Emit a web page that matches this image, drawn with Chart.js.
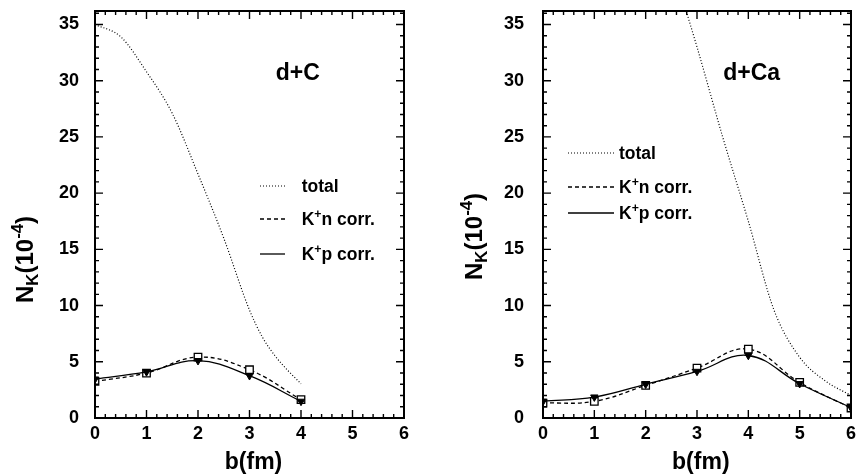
<!DOCTYPE html>
<html>
<head>
<meta charset="utf-8">
<script src="https://cdn.jsdelivr.net/npm/chart.js@4.4.0/dist/chart.umd.min.js"></script>
<style>
  html, body { margin: 0; padding: 0; background: #fff; }
  #wrap { position: relative; width: 864px; height: 475px; }
  canvas { position: absolute; top: 0; }
  #left { left: 0; }
  #right { left: 432px; }
</style>
</head>
<body>
<div id="wrap">
  <canvas id="left" width="432" height="475"></canvas>
  <canvas id="right" width="432" height="475"></canvas>
</div>
<script>
// impact parameter b (fm) where the correlated yields were computed
const B_POINTS = [0, 1, 2, 3, 4, 5, 6];
const X_TICKS = [0, 1, 2, 3, 4, 5, 6];
const Y_TICKS = [0, 5, 10, 15, 20, 25, 30, 35];

// d+C
const DC_KN = [3.25, 4.0, 5.42, 4.29, 1.63];
const DC_KP = [3.46, 4.1, 5.1, 3.76, 1.48];
const DC_TOTAL_B = [0, 0.5, 1, 1.5, 2, 2.5, 3, 3.25, 3.5, 3.75, 4];
const DC_TOTAL = [35.0, 33.9, 30.8, 27.1, 21.7, 16.0, 9.6, 7.2, 5.5, 4.2, 3.05];

// d+Ca
const DCA_KN = [1.33, 1.48, 2.9, 4.44, 6.13, 3.16, 0.89];
const DCA_KP = [1.48, 1.86, 3.0, 4.14, 5.56, 3.05, 0.92];
const DCA_TOTAL_B = [2.5, 3, 3.5, 4, 4.5, 5, 5.5, 6];
const DCA_TOTAL = [40.5, 33.0, 25.0, 17.5, 9.6, 5.4, 3.3, 2.0];

const FONT = '"Liberation Sans", Arial, Helvetica, sans-serif';

function toXY(xs, ys) {
    return ys.map(function(y, i) { return {x: xs[i], y: y}; });
}

// draws text made of pieces, some of them raised or lowered
function richText(ctx, parts, x, y, size) {
    var cx = x;
    parts.forEach(function(p) {
        var s = p.sup || p.sub ? size * 0.7 : size;
        var dy = p.sup ? -size * 0.42 : (p.sub ? size * 0.22 : 0);
        ctx.font = 'bold ' + s + 'px ' + FONT;
        ctx.fillText(p.t, cx, y + dy);
        cx += ctx.measureText(p.t).width;
    });
    return cx - x;
}

function noPadding(s) {
    s.paddingTop = 0;
    s.paddingBottom = 0;
    s.paddingLeft = 0;
    s.paddingRight = 0;
}

const framePlugin = {
    id: 'frame',
    afterDatasetsDraw: function(chart) {
        var ctx = chart.ctx, a = chart.chartArea;
        var x = chart.scales.x, y = chart.scales.y;
        ctx.save();
        ctx.strokeStyle = '#000';
        ctx.lineWidth = 1.4;
        ctx.beginPath();
        for (var i = 0; i <= 30; i++) {
            var px = x.getPixelForValue(i * 0.2);
            var len = i % 5 === 0 ? 8 : 4;
            ctx.moveTo(px, a.bottom); ctx.lineTo(px, a.bottom - len);
            ctx.moveTo(px, a.top); ctx.lineTo(px, a.top + len);
        }
        for (var v = 0; v <= 36; v++) {
            var py = y.getPixelForValue(v);
            var l = v % 5 === 0 ? 8 : 4;
            ctx.moveTo(a.left, py); ctx.lineTo(a.left + l, py);
            ctx.moveTo(a.right, py); ctx.lineTo(a.right - l, py);
        }
        ctx.stroke();
        ctx.lineWidth = 2;
        ctx.strokeRect(a.left, a.top, a.right - a.left, a.bottom - a.top);
        ctx.restore();
    },
    afterDraw: function(chart, args, o) {
        var ctx = chart.ctx;
        ctx.save();
        ctx.fillStyle = '#000';
        ctx.textBaseline = 'alphabetic';

        // panel title
        ctx.textAlign = 'center';
        ctx.font = 'bold 23px ' + FONT;
        ctx.fillText(o.title, o.titleX, 80);

        // x axis title
        ctx.fillText('b(fm)', o.xTitleX, 469);

        // y axis title
        ctx.textAlign = 'left';
        ctx.save();
        ctx.translate(o.yTitleX, o.yTitleY);
        ctx.rotate(-Math.PI / 2);
        richText(ctx, [{t: 'N'}, {t: 'K', sub: true}, {t: '(10'}, {t: '-4', sup: true}, {t: ')'}], 0, 0, 24);
        ctx.restore();

        // legend, samples use the dataset styles
        var entries = [
            {ds: 2, parts: [{t: 'total'}]},
            {ds: 1, parts: [{t: 'K'}, {t: '+', sup: true}, {t: 'n corr.'}]},
            {ds: 0, parts: [{t: 'K'}, {t: '+', sup: true}, {t: 'p corr.'}]}
        ];
        entries.forEach(function(e, i) {
            var ds = chart.data.datasets[e.ds];
            var cy = o.legendY[i];
            ctx.save();
            ctx.strokeStyle = ds.borderColor;
            ctx.lineWidth = ds.borderWidth;
            ctx.setLineDash(ds.borderDash || []);
            ctx.beginPath();
            ctx.moveTo(o.legendX0, cy);
            ctx.lineTo(o.legendX1, cy);
            ctx.stroke();
            ctx.restore();
            richText(ctx, e.parts, o.legendTextX, cy + 6, 17.5);
        });
        ctx.restore();
    }
};

function makePanel(id, kn, kp, totalB, total, opts) {
    return new Chart(document.getElementById(id), {
        type: 'line',
        data: {
            datasets: [
                {
                    label: 'K+p corr.',
                    data: toXY(B_POINTS, kp),
                    borderColor: '#000',
                    borderWidth: 1.3,
                    tension: 0.4,
                    pointStyle: 'triangle',
                    pointRotation: 180,
                    pointRadius: 4.3,
                    pointBackgroundColor: '#000',
                    pointBorderColor: '#000',
                    pointBorderWidth: 1,
                    fill: false,
                    order: 0
                },
                {
                    label: 'K+n corr.',
                    data: toXY(B_POINTS, kn),
                    borderColor: '#000',
                    borderWidth: 1.3,
                    borderDash: [4, 3],
                    tension: 0.4,
                    pointStyle: 'rect',
                    pointRadius: 5.3,
                    pointBackgroundColor: '#fff',
                    pointBorderColor: '#000',
                    pointBorderWidth: 1.3,
                    fill: false,
                    order: 1
                },
                {
                    label: 'total',
                    data: toXY(totalB, total),
                    borderColor: '#000',
                    borderWidth: 1.2,
                    borderDash: [1, 2],
                    cubicInterpolationMode: 'monotone',
                    pointRadius: 0,
                    fill: false,
                    order: 2
                }
            ]
        },
        options: {
            responsive: false,
            animation: false,
            events: [],
            layout: {padding: {left: 0, right: opts.padRight, top: 11, bottom: 0}},
            plugins: {
                legend: {display: false},
                tooltip: {enabled: false},
                frame: opts
            },
            scales: {
                x: {
                    type: 'linear',
                    min: 0,
                    max: 6,
                    grid: {display: false, drawTicks: false},
                    border: {display: false},
                    afterBuildTicks: function(s) { s.ticks = X_TICKS.map(function(v) { return {value: v}; }); },
                    afterFit: function(s) { s.height = 57; noPadding(s); },
                    ticks: {
                        padding: 5,
                        color: '#000',
                        maxRotation: 0,
                        font: {family: FONT, size: 18, weight: 'bold'}
                    }
                },
                y: {
                    type: 'linear',
                    min: 0,
                    max: 36.2,
                    grid: {display: false, drawTicks: false},
                    border: {display: false},
                    afterBuildTicks: function(s) { s.ticks = Y_TICKS.map(function(v) { return {value: v}; }); },
                    afterFit: function(s) { s.width = opts.axisLeft; noPadding(s); },
                    ticks: {
                        padding: opts.yPad,
                        color: '#000',
                        font: {family: FONT, size: 18, weight: 'bold'}
                    }
                }
            }
        },
        plugins: [framePlugin]
    });
}

makePanel('left', DC_KN, DC_KP, DC_TOTAL_B, DC_TOTAL, {
    axisLeft: 95, padRight: 28, yPad: 16,
    title: 'd+C', titleX: 297.7, xTitleX: 253.5,
    yTitleX: 33, yTitleY: 303,
    legendX0: 260, legendX1: 285, legendTextX: 301.7, legendY: [186, 219, 254]
});

makePanel('right', DCA_KN, DCA_KP, DCA_TOTAL_B, DCA_TOTAL, {
    axisLeft: 111, padRight: 13, yPad: 19,
    title: 'd+Ca', titleX: 319.7, xTitleX: 268.8,
    yTitleX: 49.7, yTitleY: 280,
    legendX0: 136, legendX1: 182, legendTextX: 187, legendY: [153, 187, 213]
});
</script>
</body>
</html>
